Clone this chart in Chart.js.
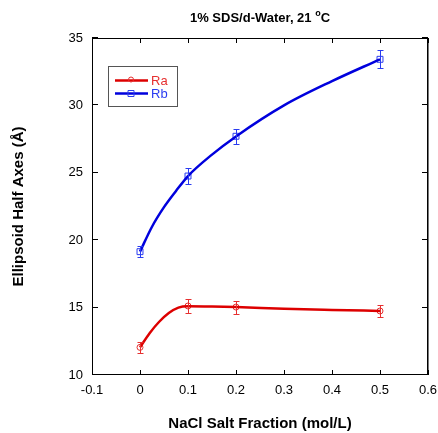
<script src="https://cdn.jsdelivr.net/npm/chart.js"></script>
<style>
    body { margin: 0; padding: 0; background: #fff; }
    #wrap { width: 438px; height: 433px; }
</style>
<div id="wrap"><canvas id="chart" width="438" height="433"></canvas></div>
<script>
    const saltFraction = [0, 0.1, 0.2, 0.5];
    const raValues = [12.05, 15.12, 15.04, 14.75];
    const raErrors = [0.4, 0.53, 0.48, 0.47];
    const rbValues = [19.15, 24.76, 27.71, 33.42];
    const rbErrors = [0.4, 0.58, 0.56, 0.67];

    // fitted curves
    const raFitX = [0, 0.02, 0.04, 0.06, 0.08, 0.1, 0.15, 0.2, 0.3, 0.4, 0.5];
    const raFitY = [12.05, 13.1, 13.95, 14.6, 15.0, 15.1, 15.08, 15.04, 14.92, 14.83, 14.75];
    const rbFitX = [0, 0.025, 0.05, 0.075, 0.1, 0.15, 0.2, 0.3, 0.4, 0.5];
    const rbFitY = [19.15, 21.0, 22.45, 23.65, 24.76, 26.35, 27.7, 30.0, 31.8, 33.42];

    const xTicks = [-0.1, 0, 0.1, 0.2, 0.3, 0.4, 0.5, 0.6];
    const yTicks = [10, 15, 20, 25, 30, 35];

    const RED = '#dd0000';
    const RED_MARK = '#e63030';
    const BLUE = '#0000dd';
    const BLUE_MARK = '#2a3cf0';
    const FONT = '"Liberation Sans", Arial, sans-serif';

    const toPoints = (xs, ys) => xs.map((x, i) => ({ x: x, y: ys[i] }));

    // error bars, inner tick marks, frame, legend and title
    const extras = {
        id: 'extras',
        afterDatasetsDraw(chart) {
            const { ctx, chartArea: a, scales: { x, y } } = chart;
            ctx.save();

            // error bars
            const bars = [[raValues, raErrors, RED_MARK], [rbValues, rbErrors, BLUE_MARK]];
            bars.forEach(([vals, errs, col]) => {
                ctx.strokeStyle = col;
                ctx.lineWidth = 1;
                vals.forEach((v, i) => {
                    const px = Math.round(x.getPixelForValue(saltFraction[i])) + 0.5;
                    const top = Math.round(y.getPixelForValue(v + errs[i])) + 0.5;
                    const bot = Math.round(y.getPixelForValue(v - errs[i])) + 0.5;
                    ctx.beginPath();
                    ctx.moveTo(px, top); ctx.lineTo(px, bot);
                    ctx.moveTo(px - 3, top); ctx.lineTo(px + 3, top);
                    ctx.moveTo(px - 3, bot); ctx.lineTo(px + 3, bot);
                    ctx.stroke();
                });
            });

            // frame
            ctx.strokeStyle = '#000';
            ctx.lineWidth = 1;
            ctx.strokeRect(a.left + 0.5, a.top + 0.5, a.right - a.left - 1, a.bottom - a.top - 1);
            ctx.strokeStyle = '#777';
            ctx.beginPath();
            ctx.moveTo(a.right + 0.5, a.top); ctx.lineTo(a.right + 0.5, a.bottom);
            ctx.stroke();

            // inward ticks on all sides
            ctx.strokeStyle = '#000';
            ctx.beginPath();
            xTicks.forEach(t => {
                const px = Math.round(x.getPixelForValue(t)) + 0.5;
                ctx.moveTo(px, a.bottom); ctx.lineTo(px, a.bottom - 5);
                ctx.moveTo(px, a.top); ctx.lineTo(px, a.top + 5);
            });
            yTicks.forEach(t => {
                const py = Math.round(y.getPixelForValue(t)) - 0.5;
                ctx.moveTo(a.left, py); ctx.lineTo(a.left + 6, py);
                ctx.moveTo(a.right, py); ctx.lineTo(a.right - 6, py);
            });
            ctx.stroke();

            // legend box
            ctx.strokeStyle = '#555';
            ctx.strokeRect(108.5, 66.5, 69, 40);
            const legendRows = [['Ra', RED, RED_MARK, 'circle', 80.5], ['Rb', BLUE, BLUE_MARK, 'rect', 93.5]];
            legendRows.forEach(([label, col, markCol, shape, ly]) => {
                ctx.strokeStyle = col;
                ctx.lineWidth = 2.5;
                ctx.beginPath();
                ctx.moveTo(115, ly); ctx.lineTo(148, ly);
                ctx.stroke();
                ctx.lineWidth = 1;
                ctx.strokeStyle = markCol;
                ctx.beginPath();
                if (shape === 'circle') ctx.arc(131, ly - 1, 2.5, 0, Math.PI * 2);
                else ctx.rect(128, ly - 3, 6, 6);
                ctx.stroke();
                ctx.fillStyle = markCol;
                ctx.font = '13px ' + FONT;
                ctx.textBaseline = 'middle';
                ctx.textAlign = 'left';
                ctx.fillText(label, 151, ly + 1);
            });

            // title with superscript degree
            ctx.fillStyle = '#000';
            ctx.textBaseline = 'alphabetic';
            const part1 = '1% SDS/d-Water, 21 ';
            ctx.font = 'bold 13px ' + FONT;
            const w1 = ctx.measureText(part1).width;
            const w3 = ctx.measureText('C').width;
            ctx.font = 'bold 9px ' + FONT;
            const w2 = ctx.measureText('o').width;
            const tx = (a.left + a.right) / 2 - (w1 + w2 + w3) / 2;
            ctx.font = 'bold 13px ' + FONT;
            ctx.fillText(part1, tx, 22);
            ctx.fillText('C', tx + w1 + w2, 22);
            ctx.font = 'bold 9px ' + FONT;
            ctx.fillText('o', tx + w1, 16);

            ctx.restore();
        }
    };

    const tickFont = { family: FONT, size: 13 };
    const titleFont = { family: FONT, size: 15, weight: 'bold' };

    new Chart(document.getElementById('chart'), {
        type: 'scatter',
        data: {
            datasets: [
                {
                    label: 'Ra fit',
                    data: toPoints(raFitX, raFitY),
                    showLine: true,
                    borderColor: RED,
                    borderWidth: 2.5,
                    cubicInterpolationMode: 'monotone',
                    pointRadius: 0
                },
                {
                    label: 'Rb fit',
                    data: toPoints(rbFitX, rbFitY),
                    showLine: true,
                    borderColor: BLUE,
                    borderWidth: 2.5,
                    cubicInterpolationMode: 'monotone',
                    pointRadius: 0
                },
                {
                    label: 'Ra',
                    data: toPoints(saltFraction, raValues),
                    showLine: false,
                    pointStyle: 'circle',
                    pointRadius: 3,
                    pointBorderWidth: 1,
                    pointBorderColor: RED_MARK,
                    pointBackgroundColor: 'rgba(0,0,0,0)'
                },
                {
                    label: 'Rb',
                    data: toPoints(saltFraction, rbValues),
                    showLine: false,
                    pointStyle: 'rect',
                    pointRadius: 4.2,
                    pointBorderWidth: 1,
                    pointBorderColor: BLUE_MARK,
                    pointBackgroundColor: 'rgba(0,0,0,0)'
                }
            ]
        },
        options: {
            responsive: false,
            animation: false,
            layout: { padding: { left: 0, right: 10, top: 38, bottom: 0 } },
            plugins: {
                legend: { display: false },
                tooltip: { enabled: false }
            },
            scales: {
                x: {
                    type: 'linear',
                    min: -0.1,
                    max: 0.6,
                    afterFit: s => { s.height = 58; s.paddingLeft = 0; s.paddingRight = 0; },
                    afterBuildTicks: s => { s.ticks = xTicks.map(v => ({ value: v })); },
                    grid: { display: false, drawTicks: false },
                    border: { display: false },
                    ticks: {
                        color: '#000',
                        font: tickFont,
                        padding: 8,
                        maxRotation: 0,
                        callback: v => String(Math.round(v * 10) / 10)
                    },
                    title: {
                        display: true,
                        text: 'NaCl Salt Fraction (mol/L)',
                        color: '#000',
                        font: titleFont,
                        padding: { top: 0, bottom: 0 }
                    }
                },
                y: {
                    min: 10,
                    max: 35,
                    afterFit: s => { s.width = 92; },
                    afterBuildTicks: s => { s.ticks = yTicks.map(v => ({ value: v })); },
                    grid: { display: false, drawTicks: false },
                    border: { display: false },
                    ticks: { color: '#000', font: tickFont, padding: 9 },
                    title: {
                        display: true,
                        text: 'Ellipsoid Half Axes (Å)',
                        color: '#000',
                        font: titleFont,
                        padding: { top: 10, bottom: 0 }
                    }
                }
            }
        },
        plugins: [extras]
    });
</script>
